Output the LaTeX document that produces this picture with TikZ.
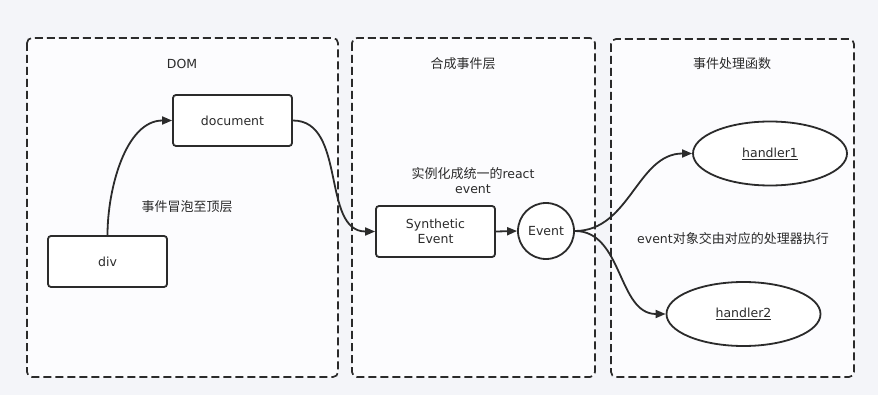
\documentclass[tikz,border=0pt]{standalone}
\usepackage{fontspec}
\setmainfont{DejaVu Sans}
\newfontfamily\cjkf{Noto Sans CJK SC}
\newcommand{\zh}[1]{{\cjkf\fontsize{13}{15}\selectfont #1}}
\usetikzlibrary{arrows.meta,shapes.geometric}
\definecolor{bgc}{HTML}{F4F5F9}
\definecolor{panelc}{HTML}{FCFCFE}
\definecolor{inkc}{HTML}{2B2B2B}
\begin{document}
\begin{tikzpicture}[x=1pt,y=-1pt,
  txt/.style={font=\fontsize{12.5}{15}\selectfont, text=inkc, inner sep=0pt, align=center},
  panel/.style={draw=inkc, line width=1.7pt, dash pattern=on 8pt off 4pt, rounded corners=5pt, fill=panelc},
  boxn/.style={draw=inkc, line width=1.8pt, rounded corners=3pt, fill=white, minimum width=119pt, minimum height=51pt, txt, inner sep=0pt},
  elln/.style={draw=inkc, line width=1.8pt, ellipse, fill=white, minimum width=154pt, minimum height=64pt, txt},
  conn/.style={draw=inkc, line width=1.8pt, -{Triangle[length=10pt,width=8pt]}},
]
\useasboundingbox (0,0) rectangle (878,395);
\fill[bgc] (0,0) rectangle (878,395);
% panels
\draw[panel] (27,38) rectangle (338,377);
\draw[panel] (352,38) rectangle (595,377);
\draw[panel] (611,39) rectangle (854,377);
% panel titles
\node[txt] (t1) at (182,64) {DOM};
\node[txt] (t2) at (463,64) {\zh{合成事件层}};
\node[txt] (t3) at (732,64) {\zh{事件处理函数}};
% nodes
\node[boxn] (doc) at (232.5,120.5) {document};
\node[boxn] (div) at (107.5,261.5) {div};
\node[boxn] (syn) at (435.5,231.5) {Synthetic\\Event};
\node[draw=inkc, line width=1.8pt, circle, fill=white, minimum size=56pt, txt] (ev) at (546,231) {Event};
\node[elln] (h1) at (770,153.5) {\underline{handler1}};
\node[elln] (h2) at (743.5,314) {\underline{handler2}};
% labels
\node[txt] (l1) at (187,207) {\zh{事件冒泡至顶层}};
\node[txt, font=\fontsize{12.5}{15.5}\selectfont] (l2) at (473,180.5) {\zh{实例化成统一的}react\\event};
\node[txt] (l3) at (733,239) {event\zh{对象交由对应的处理器执行}};
% connectors
\draw[conn] (div.north) to[out=90,in=180,looseness=0.9] (doc.west);
\draw[conn] (doc.east) to[out=0,in=180] (syn.west);
\draw[conn] (syn.east) -- (ev.west);
\draw[conn] (ev.east) to[out=0,in=180] (h1.west);
\draw[conn] (ev.east) to[out=0,in=180] (h2.west);
\end{tikzpicture}
\end{document}
